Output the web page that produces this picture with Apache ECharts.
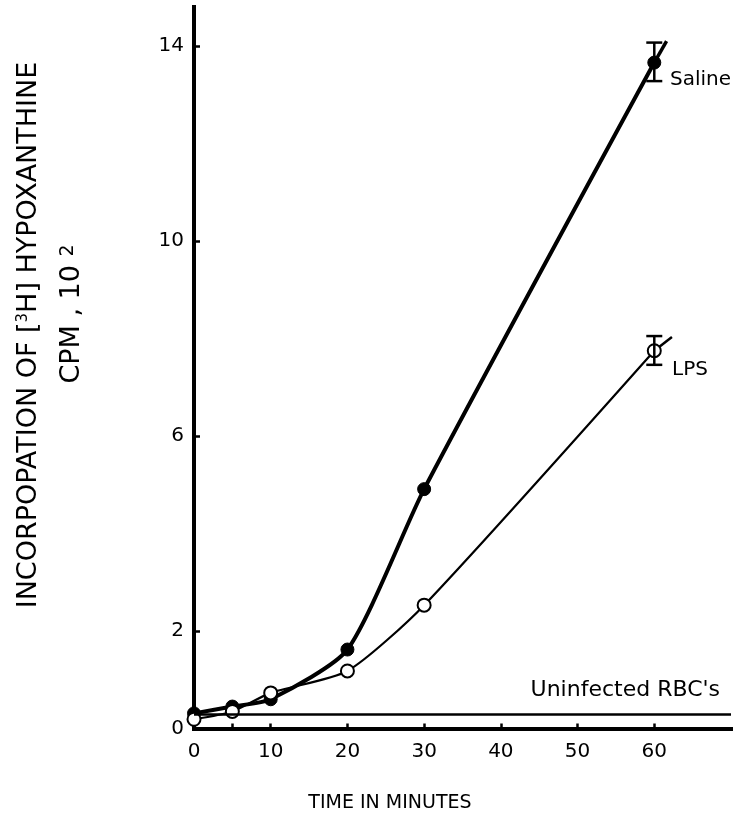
<!DOCTYPE html>
<html><head><meta charset="utf-8">
<script src="https://cdn.jsdelivr.net/npm/echarts@6/dist/echarts.min.js"></script>
<style>html,body{margin:0;padding:0;background:#fff}#c{width:733px;height:838px}</style>
</head><body><div id="c"></div>
<script>
// ---- data ----
const times = [0, 5, 10, 20, 30, 60];
const saline = [0.31, 0.45, 0.6, 1.62, 4.91, 13.66];
const lps = [0.19, 0.35, 0.73, 1.18, 2.53, 7.75];
const uninfected = 0.3;
const errTime = 60;
const salineErr = [13.28, 14.07];
const lpsErr = [7.46, 8.05];
const salineTailX = [60, 61.6];
const salineTailY = [13.66, 14.1];
const lpsTailX = [60, 62.3];
const lpsTailY = [7.75, 8.03];
const xTickLabels = [0, 10, 20, 30, 40, 50, 60];
const xTickMarks = [5, 10, 20, 30, 40, 50, 60];
const yTickLabels = [0, 2, 6, 10, 14];
const yTickMarks = [2, 6, 10, 14];

const FONT = 'DejaVu Sans';
const zip = (xs, ys) => xs.map((x, i) => [x, ys[i]]);

const chart = echarts.init(document.getElementById('c'), null, {renderer: 'canvas'});

function errRender(params, api) {
  const x = api.value(0), lo = api.value(1), hi = api.value(2);
  const pLo = api.coord([x, lo]), pHi = api.coord([x, hi]);
  const w = 8;
  const st = {stroke: '#000', lineWidth: 2.5};
  return {type: 'group', children: [
    {type: 'line', shape: {x1: pLo[0], y1: pLo[1], x2: pHi[0], y2: pHi[1]}, style: st},
    {type: 'line', shape: {x1: pLo[0] - w, y1: pLo[1], x2: pLo[0] + w, y2: pLo[1]}, style: st},
    {type: 'line', shape: {x1: pHi[0] - w, y1: pHi[1], x2: pHi[0] + w, y2: pHi[1]}, style: st}
  ]};
}

const option = {
  animation: false,
  backgroundColor: '#fff',
  grid: {left: 194, right: 2, top: 7, bottom: 109.5},
  xAxis: {
    type: 'value', min: 0, max: 70, interval: 10,
    axisLine: {show: true, lineStyle: {color: '#000', width: 4, cap: 'square'}},
    axisTick: {show: true, inside: true, length: 5, lineStyle: {color: '#000', width: 2.5}, customValues: xTickMarks},
    axisLabel: {customValues: xTickLabels, margin: 13, fontSize: 20, fontFamily: FONT, color: '#000'},
    splitLine: {show: false}
  },
  yAxis: {
    type: 'value', min: 0, max: 14.8,
    axisLine: {show: true, lineStyle: {color: '#000', width: 4, cap: 'square'}},
    axisTick: {show: true, inside: true, length: 6, lineStyle: {color: '#000', width: 2.5}, customValues: yTickMarks},
    axisLabel: {customValues: yTickLabels, margin: 10, fontSize: 20, fontFamily: FONT, color: '#000'},
    splitLine: {show: false}
  },
  series: [
    {
      name: 'Uninfected', type: 'line', data: [], silent: true,
      markLine: {silent: true, symbol: 'none', label: {show: false},
        lineStyle: {color: '#000', width: 2.5, type: 'solid'},
        data: [{yAxis: uninfected}]}
    },
    {
      name: 'Saline', type: 'line', data: zip(times, saline), smooth: 0.22,
      symbol: 'circle', symbolSize: 13, z: 3,
      lineStyle: {color: '#000', width: 4},
      itemStyle: {color: '#000', borderColor: '#000', borderWidth: 1}
    },
    {
      name: 'SalineTail', type: 'line', data: zip(salineTailX, salineTailY), symbol: 'none', z: 2,
      lineStyle: {color: '#000', width: 3.5}
    },
    {
      name: 'LPSTail', type: 'line', data: zip(lpsTailX, lpsTailY), symbol: 'none', z: 2,
      lineStyle: {color: '#000', width: 2.5}
    },
    {
      name: 'LPS', type: 'line', data: zip(times, lps), smooth: 0.22,
      symbol: 'circle', symbolSize: 13, z: 4,
      lineStyle: {color: '#000', width: 2.2},
      itemStyle: {color: '#fff', borderColor: '#000', borderWidth: 2}
    },
    {
      name: 'err', type: 'custom', renderItem: errRender, z: 5,
      data: [[errTime, salineErr[0], salineErr[1]], [errTime, lpsErr[0], lpsErr[1]]]
    }
  ],
  graphic: [
    {type: 'text', x: 29, y: 335, rotation: Math.PI / 2,
      style: {text: 'INCORPOPATION OF [{s|3}H] HYPOXANTHINE', align: 'center', verticalAlign: 'middle',
        font: '27px "DejaVu Sans"', fill: '#000',
        rich: {s: {fontSize: 15, fontFamily: FONT, verticalAlign: 'top', fill: '#000'}}}},
    {type: 'text', x: 72, y: 314, rotation: Math.PI / 2,
      style: {text: 'CPM , 10 {s|2}', align: 'center', verticalAlign: 'middle',
        font: '27px "DejaVu Sans"', fill: '#000',
        rich: {s: {fontSize: 19, fontFamily: FONT, verticalAlign: 'top', fill: '#000'}}}},
    {type: 'text', x: 390, y: 803,
      style: {text: 'TIME IN MINUTES', align: 'center', verticalAlign: 'middle', font: '19px "DejaVu Sans"', fill: '#000'}},
    {type: 'text', x: 670, y: 80,
      style: {text: 'Saline', align: 'left', verticalAlign: 'middle', font: '20px "DejaVu Sans"', fill: '#000'}},
    {type: 'text', x: 672, y: 370,
      style: {text: 'LPS', align: 'left', verticalAlign: 'middle', font: '20px "DejaVu Sans"', fill: '#000'}},
    {type: 'text', x: 720, y: 690,
      style: {text: "Uninfected RBC's", align: 'right', verticalAlign: 'middle', font: '22px "DejaVu Sans"', fill: '#000'}}
  ]
};
chart.setOption(option);
</script>
</body></html>
